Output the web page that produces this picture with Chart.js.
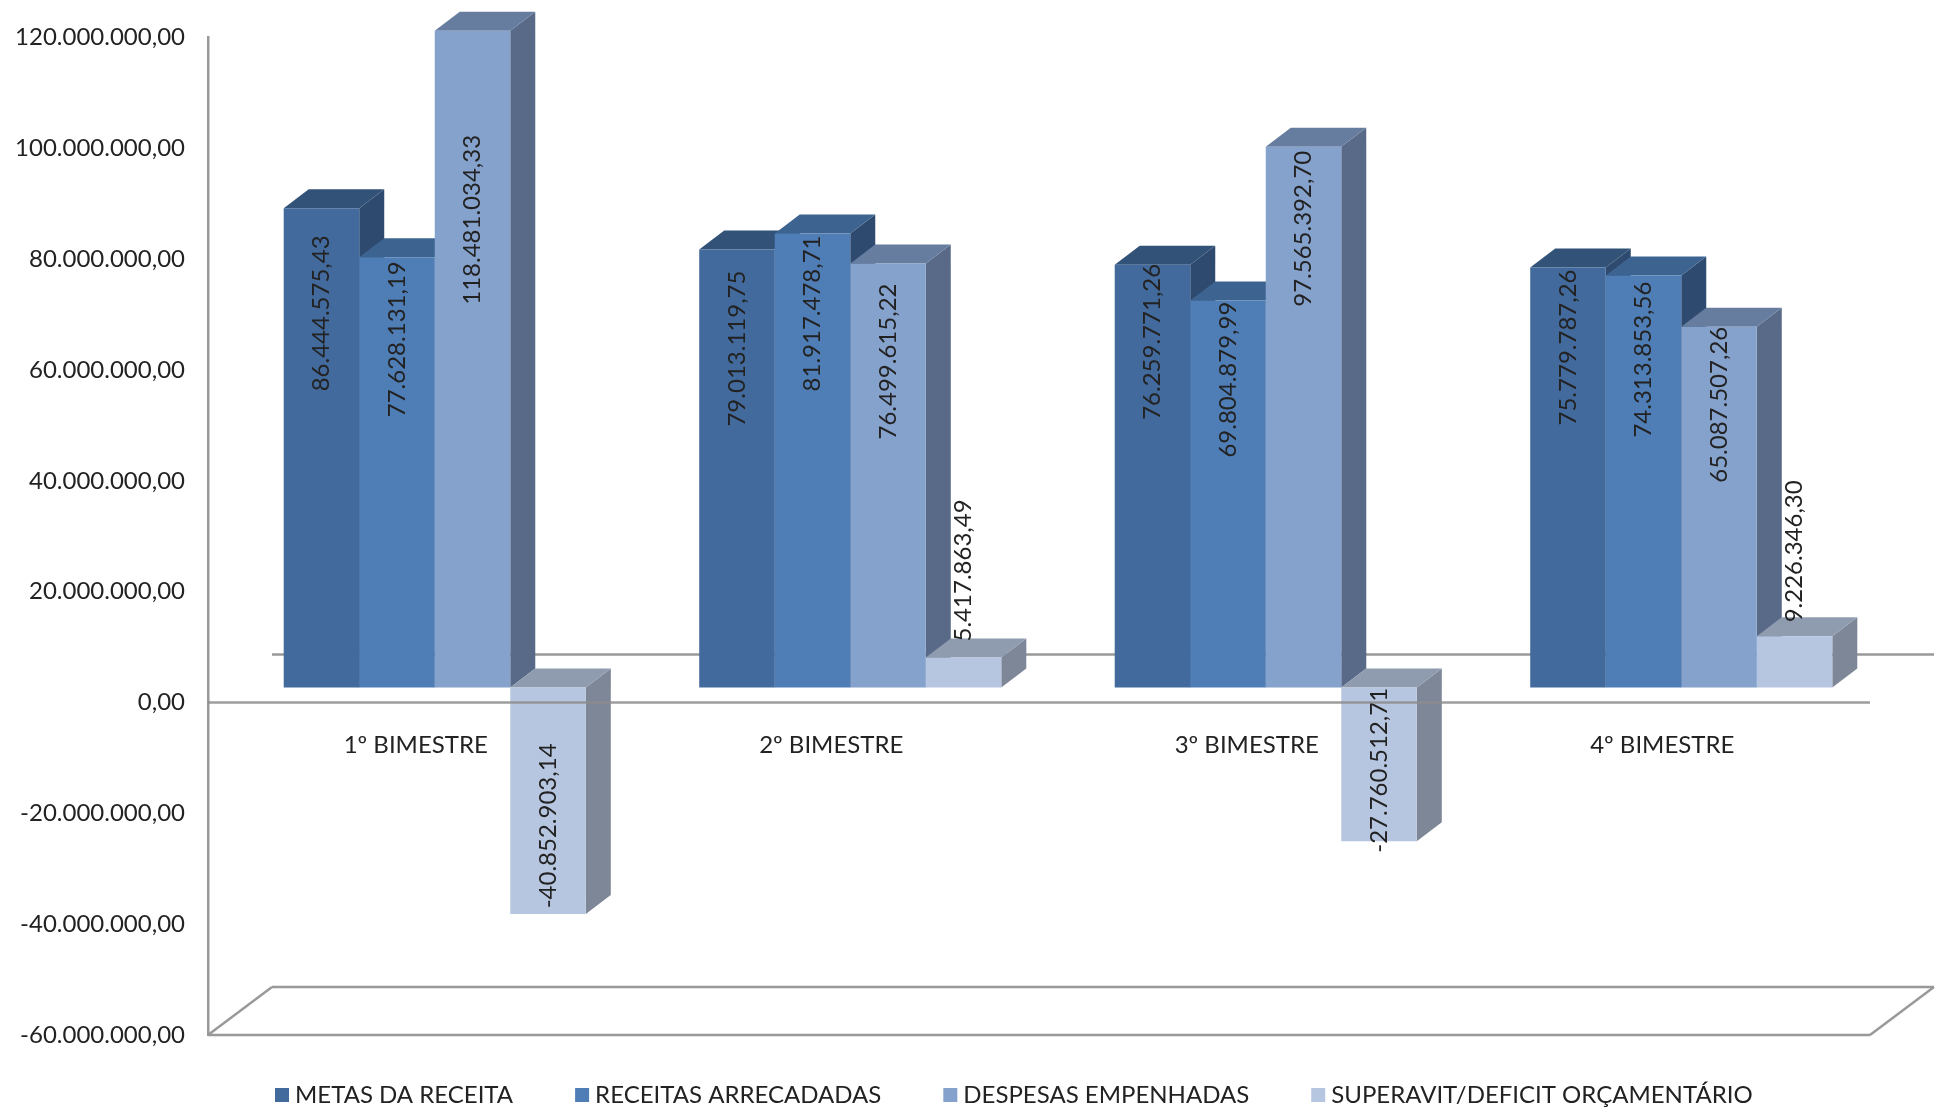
<!DOCTYPE html>
<html>
<head>
<meta charset="utf-8">
<title>Metas, receitas e despesas por bimestre</title>
<script src="https://cdn.jsdelivr.net/npm/chart.js@4"></script>
<style>
  html, body { margin: 0; padding: 0; background: #fff; }
  canvas { display: block; }
</style>
</head>
<body>
<canvas id="chart" width="1942" height="1109"></canvas>
<script>
// Chart data
const categories = ['1º BIMESTRE', '2º BIMESTRE', '3º BIMESTRE', '4º BIMESTRE'];
const metasReceita = [86444575.43, 79013119.75, 76259771.26, 75779787.26];
const receitasArrecadadas = [77628131.19, 81917478.71, 69804879.99, 74313853.56];
const despesasEmpenhadas = [118481034.33, 76499615.22, 97565392.70, 65087507.26];
const superavitDeficit = [-40852903.14, 5417863.49, -27760512.71, 9226346.30];
const seriesNames = ['METAS DA RECEITA', 'RECEITAS ARRECADADAS', 'DESPESAS EMPENHADAS', 'SUPERAVIT/DEFICIT ORÇAMENTÁRIO'];

// Colours per series: front face, top face, side face
const frontColors = ['#436a9d', '#4f7eb6', '#85a2cc', '#b7c6e0'];
const topColors = ['#325278', '#3d6491', '#677d9f', '#8f9cb0'];
const sideColors = ['#2e4a6e', '#2e4a6e', '#586a88', '#7e8797'];
const lineColor = '#999999';
const textColor = '#222222';
const FONT = 'Lato, sans-serif';

// Depth of the fake 3D: bars sit forward of the axes by BAR_SHIFT, each has BAR_DEPTH
const BAR_SHIFT = { x: 19, y: -15 };
const BAR_DEPTH = { x: 25, y: 19 };
const BOX_DEPTH = { x: 64, y: 48 };

// Distance in pixels from the bar end to the centre of its rotated label
const labelGaps = [
  [105, 99, 77, 80],
  [82, 80, 79, 84],
  [189, 98, 82, 78],
  [-88, -87, -71, -85]
];

function formatValue(value) {
  const fixed = Math.abs(value).toFixed(2).split('.');
  const whole = fixed[0].replace(/\B(?=(\d{3})+(?!\d))/g, '.');
  return (value < 0 ? '-' : '') + whole + ',' + fixed[1];
}

function strokeLine(ctx, x1, y1, x2, y2) {
  ctx.beginPath();
  ctx.moveTo(x1, y1);
  ctx.lineTo(x2, y2);
  ctx.stroke();
}

function fillPoly(ctx, color, points) {
  ctx.fillStyle = color;
  ctx.beginPath();
  points.forEach((p, i) => (i ? ctx.lineTo(p[0], p[1]) : ctx.moveTo(p[0], p[1])));
  ctx.closePath();
  ctx.fill();
}

// Back wall and floor, then top and side faces of every bar
const depthPlugin = {
  id: 'depth',
  beforeDatasetsDraw(chart) {
    const { ctx, chartArea, scales } = chart;
    const zero = scales.y.getPixelForValue(0);
    const floor = scales.y.getPixelForValue(-60000000);
    ctx.save();
    ctx.strokeStyle = lineColor;
    ctx.lineWidth = 2.5;
    strokeLine(ctx, chartArea.left + BOX_DEPTH.x, zero - BOX_DEPTH.y, chartArea.right + BOX_DEPTH.x, zero - BOX_DEPTH.y);
    strokeLine(ctx, chartArea.left, floor, chartArea.left + BOX_DEPTH.x, floor - BOX_DEPTH.y);
    strokeLine(ctx, chartArea.left + BOX_DEPTH.x, floor - BOX_DEPTH.y, chartArea.right + BOX_DEPTH.x, floor - BOX_DEPTH.y);
    strokeLine(ctx, chartArea.right + BOX_DEPTH.x, floor - BOX_DEPTH.y, chartArea.right, floor);
    strokeLine(ctx, chartArea.left, floor, chartArea.right, floor);
    ctx.restore();

    ctx.save();
    ctx.translate(BAR_SHIFT.x, BAR_SHIFT.y);
    const dx = BAR_DEPTH.x;
    const dy = BAR_DEPTH.y;
    categories.forEach((name, c) => {
      chart.data.datasets.forEach((ds, s) => {
        const bar = chart.getDatasetMeta(s).data[c];
        const left = bar.x - bar.width / 2;
        const right = bar.x + bar.width / 2;
        const top = Math.min(bar.y, bar.base);
        const bottom = Math.max(bar.y, bar.base);
        fillPoly(ctx, sideColors[s], [[right, top], [right + dx, top - dy], [right + dx, bottom - dy], [right, bottom]]);
        fillPoly(ctx, topColors[s], [[left, top], [left + dx, top - dy], [right + dx, top - dy], [right, top]]);
      });
    });
    // stays translated for the library's bars, restored in afterDatasetsDraw
  },
  afterDatasetsDraw(chart) {
    const { ctx, chartArea, scales } = chart;

    // Rotated value labels
    ctx.fillStyle = textColor;
    ctx.font = '24px ' + FONT;
    ctx.textAlign = 'center';
    ctx.textBaseline = 'middle';
    chart.data.datasets.forEach((ds, s) => {
      chart.getDatasetMeta(s).data.forEach((bar, c) => {
        ctx.save();
        ctx.translate(bar.x, bar.y + labelGaps[s][c]);
        ctx.rotate(-Math.PI / 2);
        ctx.fillText(formatValue(ds.data[c]), 0, 0);
        ctx.restore();
      });
    });
    ctx.restore();

    // Front zero line runs over the bars
    const zero = scales.y.getPixelForValue(0);
    ctx.save();
    ctx.strokeStyle = 'rgba(140,140,140,0.85)';
    ctx.lineWidth = 2.5;
    strokeLine(ctx, chartArea.left, zero, chartArea.right, zero);
    ctx.restore();

    drawLegend(chart);
  }
};

// Legend along the bottom edge
function drawLegend(chart) {
  const { ctx } = chart;
  let x = 275;
  const y = 1095;
  ctx.save();
  ctx.font = '24px ' + FONT;
  ctx.textAlign = 'left';
  ctx.textBaseline = 'middle';
  chart.data.datasets.forEach((ds) => {
    ctx.fillStyle = ds.backgroundColor;
    ctx.fillRect(x, y - 7, 14, 14);
    ctx.fillStyle = textColor;
    ctx.fillText(ds.label, x + 20, y);
    x += 20 + ctx.measureText(ds.label).width + 62;
  });
  ctx.restore();
}

const seriesValues = [metasReceita, receitasArrecadadas, despesasEmpenhadas, superavitDeficit];

new Chart(document.getElementById('chart'), {
  type: 'bar',
  data: {
    labels: categories,
    datasets: seriesValues.map((values, i) => ({
      label: seriesNames[i],
      data: values,
      backgroundColor: frontColors[i],
      borderWidth: 0,
      clip: false
    }))
  },
  options: {
    responsive: false,
    devicePixelRatio: 1,
    animation: false,
    layout: { padding: { top: 37, right: 72, bottom: 74, left: 0 } },
    categoryPercentage: 0.727,
    barPercentage: 1,
    plugins: {
      legend: { display: false },
      tooltip: { enabled: false }
    },
    scales: {
      x: {
        position: { y: 0 },
        afterFit(scale) { scale.height = 0; },
        grid: { display: false, drawTicks: false },
        border: { display: false },
        ticks: {
          color: textColor,
          font: { family: FONT, size: 24 },
          padding: 28,
          maxRotation: 0,
          autoSkip: false
        }
      },
      y: {
        min: -60000000,
        max: 120000000,
        afterFit(scale) { scale.width = 208; },
        grid: { display: false, drawTicks: false },
        border: { color: lineColor, width: 2.5 },
        ticks: {
          stepSize: 20000000,
          color: textColor,
          font: { family: FONT, size: 24 },
          padding: 23,
          callback: (value) => formatValue(value)
        }
      }
    }
  },
  plugins: [depthPlugin]
});
</script>
</body>
</html>
